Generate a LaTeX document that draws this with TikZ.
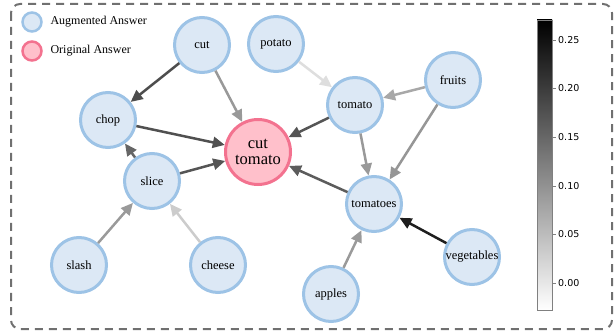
\documentclass[tikz,border=0pt]{standalone}
\usepackage{fontspec}
\setmainfont{Liberation Serif}
\newfontfamily\tickfont{DejaVu Sans}
\usepackage{tikz}
\usetikzlibrary{arrows.meta}
\usetikzlibrary{shapes}

\definecolor{augfill}{HTML}{DCE8F5}
\definecolor{augline}{HTML}{9DC3E6}
\definecolor{origfill}{HTML}{FFC0CB}
\definecolor{origline}{HTML}{F3728F}
\definecolor{framegray}{HTML}{707070}

\begin{document}
\begin{tikzpicture}[x=1pt,y=-1pt,
    aug/.style={circle,draw=augline,fill=augfill,line width=3pt,minimum size=55pt,inner sep=0pt,font=\fontsize{12.5}{13}\selectfont},
    orig/.style={circle,draw=origline,fill=origfill,line width=3pt,minimum size=65pt,inner sep=0pt,align=center,font=\fontsize{16.5}{17}\selectfont}]
          \useasboundingbox (0,0) rectangle (616,331);
          % frame
          \draw[framegray,line width=2pt,dash pattern=on 8pt off 6pt,rounded corners=9pt] (11,4) rectangle (612,329);
          % legend
          \node[circle,draw=augline,fill=augfill,line width=2.5pt,minimum size=19pt,inner sep=0pt] (legaug) at (32,22) {};
          \node[anchor=west,font=\fontsize{12}{13}\selectfont] (legaugtext) at (47,22) {Augmented Answer};
          \node[circle,draw=origline,fill=origfill,line width=2.5pt,minimum size=19pt,inner sep=0pt] (legorig) at (32,51) {};
          \node[anchor=west,font=\fontsize{12}{13}\selectfont] (legorigtext) at (47,51) {Original Answer};
          \begin{scope}[every node/.style={aug}]
            \node (cut) at (202,45) {cut};
            \node (potato) at (276,44) {potato};
            \node (chop) at (108,120) {chop};
            \node (tomato) at (355,105) {tomato};
            \node (fruits) at (453,80) {fruits};
            \node (slice) at (152,181) {slice};
            \node (tomatoes) at (374,204) {tomatoes};
            \node (slash) at (79,265) {slash};
            \node (cheese) at (218,265) {cheese};
            \node (apples) at (331,294) {apples};
            \node (vegetables) at (472,257) {vegetables};
          \end{scope}
          \node[orig] (cuttomato) at (258,152) {cut\\[-1pt]tomato};
          \begin{scope}[every path/.style={-{Triangle[length=12pt,width=11pt]},line width=2.5pt}]
            \draw[color={rgb,255:red,77;green,77;blue,77}] (cut) -- (chop);
            \draw[color={rgb,255:red,153;green,153;blue,153}] (cut) -- (cuttomato);
            \draw[color={rgb,255:red,222;green,222;blue,222}] (potato) -- (tomato);
            \draw[color={rgb,255:red,168;green,168;blue,168}] (fruits) -- (tomato);
            \draw[color={rgb,255:red,150;green,150;blue,150}] (fruits) -- (tomatoes);
            \draw[color={rgb,255:red,85;green,85;blue,85}] (tomato) -- (cuttomato);
            \draw[color={rgb,255:red,153;green,153;blue,153}] (tomato) -- (tomatoes);
            \draw[color={rgb,255:red,80;green,80;blue,80}] (chop) -- (cuttomato);
            \draw[color={rgb,255:red,102;green,102;blue,102}] (slice) -- (chop);
            \draw[color={rgb,255:red,85;green,85;blue,85}] (slice) -- (cuttomato);
            \draw[color={rgb,255:red,92;green,92;blue,92}] (tomatoes) -- (cuttomato);
            \draw[color={rgb,255:red,154;green,154;blue,154}] (slash) -- (slice);
            \draw[color={rgb,255:red,204;green,204;blue,204}] (cheese) -- (slice);
            \draw[color={rgb,255:red,154;green,154;blue,154}] (apples) -- (tomatoes);
            \draw[color={rgb,255:red,30;green,30;blue,30}] (vegetables) -- (tomatoes);
          \end{scope}
          % colorbar
          \shade[bottom color=white,top color=black] (537,310) rectangle (552,20);
          \draw[gray,line width=0.8pt] (537,310) rectangle (552,20);
          \foreach \val/\ypos in {0.00/283,0.05/234,0.10/186,0.15/137,0.20/88,0.25/40} {
            \draw[gray,line width=0.8pt] (552,\ypos) -- (555.5,\ypos);
            \node[anchor=west,inner sep=0pt,font=\tickfont\fontsize{9.5}{10}\selectfont] at (558,\ypos) {\val};
          }
        \end{tikzpicture}
\end{document}
